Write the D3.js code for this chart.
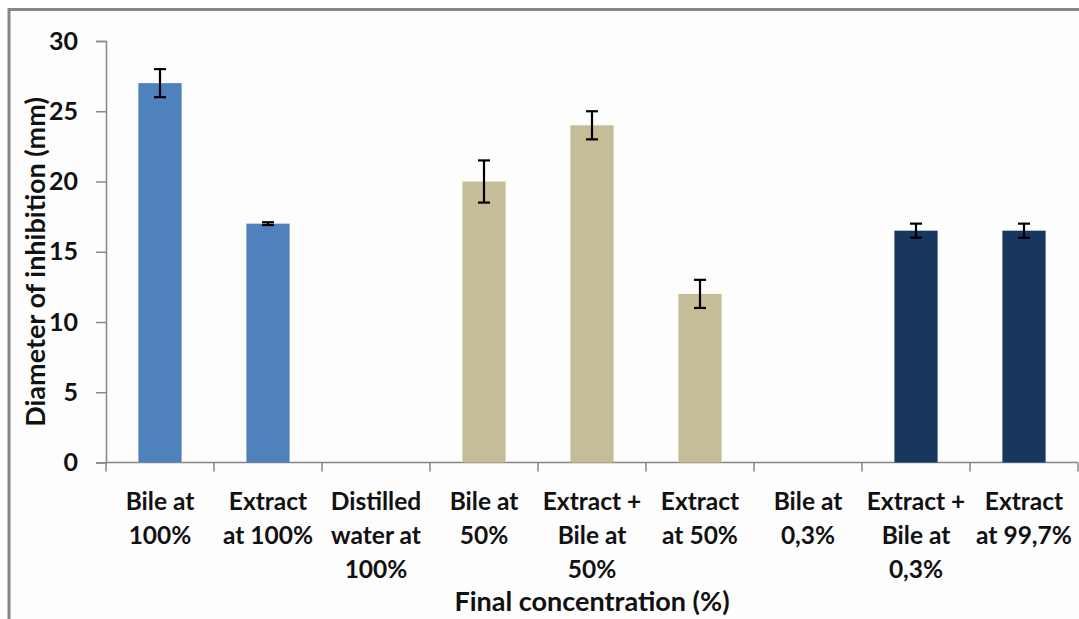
<!DOCTYPE html>
<html>
<head>
<meta charset="utf-8">
<script src="https://cdn.jsdelivr.net/npm/d3@7"></script>
<style>
  html, body { margin: 0; padding: 0; background: #fff; }
  svg text { font-family: Lato, "Open Sans", sans-serif; font-weight: 700; fill: #111; }
</style>
</head>
<body>
<div id="chart"></div>
<script>
// data
const categories = [
  'Bile at|100%', 'Extract|at 100%', 'Distilled|water at|100%',
  'Bile at|50%', 'Extract +|Bile at|50%', 'Extract|at 50%',
  'Bile at|0,3%', 'Extract +|Bile at|0,3%', 'Extract|at 99,7%'
];
const values = [27, 17, 0, 20, 24, 12, 0, 16.5, 16.5];
const errors = [1, 0.1, 0, 1.5, 1, 1, 0, 0.5, 0.5];
const groups = ['100', '100', '100', '50', '50', '50', '03', '03', '03'];
const yTicks = [0, 5, 10, 15, 20, 25, 30];

const colors = {'100': '#4f81bd', '50': '#c4bd97', '03': '#17375e'};

const width = 1079;
const height = 619;
const plot = {left: 106, right: 1078, top: 41, bottom: 462.5};

const svg = d3.select('#chart')
    .append('svg')
    .attr('width', width)
    .attr('height', height);

// outer frame
svg.append('rect')
    .attr('x', 9).attr('y', 9.5)
    .attr('width', width + 20).attr('height', height + 20)
    .attr('fill', '#fdfdfd')
    .attr('stroke', '#858585')
    .attr('stroke-width', 3);

const x = d3.scaleBand()
    .domain(categories)
    .range([plot.left, plot.right])
    .paddingInner(0.6)
    .paddingOuter(0.3);

const y = d3.scaleLinear()
    .domain([0, 30])
    .range([plot.bottom, plot.top]);

// Y axis
const yAxis = svg.append('g')
    .attr('transform', `translate(${plot.left},0)`)
    .call(d3.axisLeft(y).tickValues(yTicks).tickSize(10).tickPadding(18));
yAxis.select('.domain').attr('stroke', '#888').attr('stroke-width', 1.5);
yAxis.selectAll('.tick line').attr('stroke', '#888').attr('stroke-width', 1.5);
yAxis.selectAll('.tick text')
    .attr('font-size', 25)
    .attr('font-family', 'Lato, sans-serif')
    .attr('font-weight', 700)
    .attr('fill', '#111');

// X axis baseline and boundary ticks
const step = x.step();
const bounds = d3.range(categories.length + 1)
    .map((i) => plot.left + i * step);
svg.append('line')
    .attr('x1', plot.left).attr('x2', plot.right)
    .attr('y1', y(0)).attr('y2', y(0))
    .attr('stroke', '#888').attr('stroke-width', 1.5);
svg.selectAll('.xtick')
    .data(bounds)
    .enter()
    .append('line')
    .attr('class', 'xtick')
    .attr('x1', (d) => d).attr('x2', (d) => d)
    .attr('y1', y(0)).attr('y2', y(0) + 9)
    .attr('stroke', '#888').attr('stroke-width', 1.5);

// bars
const rows = categories.map((c, i) => ({
  cat: c, value: values[i], err: errors[i], group: groups[i]
}));

svg.selectAll('.bar')
    .data(rows.filter((d) => d.value > 0))
    .enter()
    .append('rect')
    .attr('class', 'bar')
    .attr('x', (d) => x(d.cat))
    .attr('y', (d) => y(d.value))
    .attr('width', x.bandwidth())
    .attr('height', (d) => y(0) - y(d.value))
    .attr('fill', (d) => colors[d.group]);

// error bars
const eb = svg.selectAll('.err')
    .data(rows.filter((d) => d.value > 0))
    .enter()
    .append('g')
    .attr('class', 'err')
    .attr('stroke', '#000')
    .attr('stroke-width', 2.2);
eb.append('line')
    .attr('x1', (d) => x(d.cat) + x.bandwidth() / 2)
    .attr('x2', (d) => x(d.cat) + x.bandwidth() / 2)
    .attr('y1', (d) => y(d.value + d.err))
    .attr('y2', (d) => y(d.value - d.err));
eb.append('line')
    .attr('x1', (d) => x(d.cat) + x.bandwidth() / 2 - 6)
    .attr('x2', (d) => x(d.cat) + x.bandwidth() / 2 + 6)
    .attr('y1', (d) => y(d.value + d.err))
    .attr('y2', (d) => y(d.value + d.err));
eb.append('line')
    .attr('x1', (d) => x(d.cat) + x.bandwidth() / 2 - 6)
    .attr('x2', (d) => x(d.cat) + x.bandwidth() / 2 + 6)
    .attr('y1', (d) => y(d.value - d.err))
    .attr('y2', (d) => y(d.value - d.err));

// category labels, multi-line
const labels = svg.selectAll('.xlabel')
    .data(categories)
    .enter()
    .append('text')
    .attr('class', 'xlabel')
    .attr('text-anchor', 'middle')
    .attr('font-size', 24.5)
    .attr('transform', (d) =>
      `translate(${x(d) + x.bandwidth() / 2},${y(0) + 47})`);
labels.selectAll('tspan')
    .data((d) => d.split('|'))
    .enter()
    .append('tspan')
    .attr('x', 0)
    .attr('y', (d, i) => i * 34)
    .text((d) => d);

// axis titles
svg.append('text')
    .attr('text-anchor', 'middle')
    .attr('font-size', 27)
    .attr('x', 592)
    .attr('y', 611)
    .text('Final concentration (%)');

svg.append('text')
    .attr('text-anchor', 'middle')
    .attr('font-size', 27)
    .attr('transform', 'translate(45,262) rotate(-90)')
    .text('Diameter of inhibition (mm)');
</script>
</body>
</html>
